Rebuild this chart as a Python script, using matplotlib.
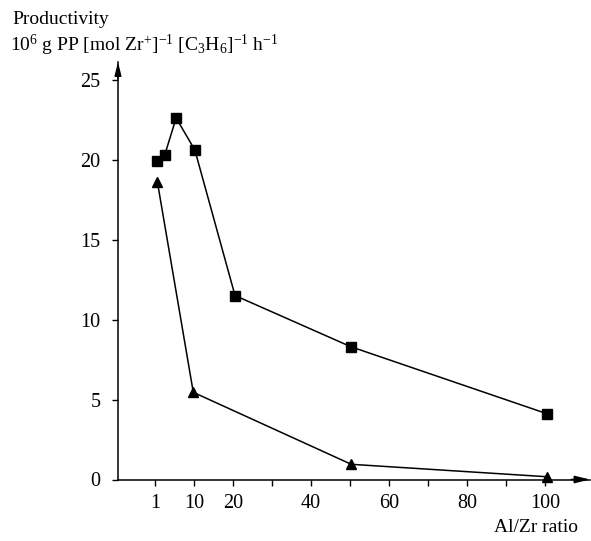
import matplotlib
matplotlib.use("Agg")
import matplotlib.pyplot as plt

# data (x = position on the drawn axis, "1" sits at 0)
sq_x = [0.4, 2.5, 5.4, 10.2, 20.5, 50.2, 100.6]
sq_y = [19.9, 20.3, 22.6, 20.6, 11.5, 8.3, 4.1]
tri_x = [0.6, 9.8, 50.3, 100.6]
tri_y = [18.6, 5.45, 0.95, 0.17]

xtick_pos = [0, 10, 20, 30, 40, 50, 60, 70, 80, 90, 100]
xtick_lab = ["1", "10", "20", "", "40", "", "60", "", "80", "", "100"]
ytick_pos = [0, 5, 10, 15, 20, 25]

plt.rcParams['font.family'] = ['Liberation Serif', 'DejaVu Serif']
plt.rcParams['mathtext.fontset'] = 'custom'
plt.rcParams['mathtext.rm'] = 'Liberation Serif'
plt.rcParams['mathtext.it'] = 'Liberation Serif:italic'

W, H = 591, 541
fig = plt.figure(figsize=(W / 100, H / 100), dpi=100)
ax = fig.add_axes([118 / W, (H - 479.5) / H, (590 - 118) / W, (479.5 - 62) / H])

ax.plot(sq_x, sq_y, color='k', lw=1.1, marker='s', markersize=7.5, clip_on=False, zorder=3)
ax.plot(tri_x, tri_y, color='k', lw=1.1, marker='^', markersize=7.5, clip_on=False, zorder=3)

ax.set_xlim(-9.5, 111.5)
ax.set_ylim(0, 26.1)

for s in ['top', 'right']:
    ax.spines[s].set_visible(False)
for s in ['left', 'bottom']:
    ax.spines[s].set_linewidth(1.1)

ax.set_xticks(xtick_pos)
ax.set_xticklabels(xtick_lab)
ax.set_yticks(ytick_pos)
ax.tick_params(axis='both', direction='out', length=4.5, width=1, labelsize=14.5)
ax.tick_params(axis='y', pad=8)
ax.tick_params(axis='x', pad=6)

# arrow heads on the axes
ax.annotate('', xy=(1.0, 0), xytext=(0.96, 0), xycoords='axes fraction',
            arrowprops=dict(arrowstyle='-|>,head_length=0.9,head_width=0.22', color='k', lw=1.1,
                            shrinkA=0, shrinkB=0))
ax.annotate('', xy=(0, 1.0), xytext=(0, 0.96), xycoords='axes fraction',
            arrowprops=dict(arrowstyle='-|>,head_length=0.8,head_width=0.2', color='k', lw=1.1,
                            shrinkA=0, shrinkB=0))

fig.text(12 / W, 1 - 20 / H, "Productivity", fontsize=14, va='center', ha='left')
fig.text(10 / W, 1 - 45 / H,
         r"10$^{6}$ g PP [mol Zr$^{+}$]$^{-1}$ [C$_{3}$H$_{6}$]$^{-1}$ h$^{-1}$",
         fontsize=14, va='center', ha='left')
fig.text(578 / W, 1 - 528 / H, "Al/Zr ratio", fontsize=14, va='center', ha='right')

fig.savefig("out.png", dpi=100)
